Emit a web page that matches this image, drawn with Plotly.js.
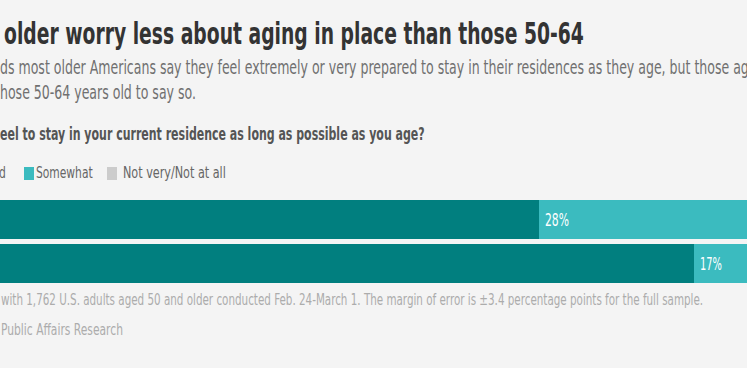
<!DOCTYPE html>
<html>
<head>
<meta charset="utf-8">
<script src="https://cdn.plot.ly/plotly-3.0.1.min.js"></script>
<style>
html,body{margin:0;padding:0;background:#f4f4f4;}
#chart{width:747px;height:368px;}
g.annotation text.annotation-text{transform-box:fill-box;transform-origin:0% 50%;}
</style>
</head>
<body>
<div id="chart"></div>
<script>
// ---- data ----
var categories = ["Ages 50-64", "Ages 65+"];
var seriesNames = ["Extremely/very prepared", "Somewhat", "Not very/Not at all"];
var veryPrepared = [66, 80];
var somewhat = [28, 17];
var notVery = [6, 3];
var somewhatLabels = ["28%", "17%"];

// ---- texts ----
var titleText = "older worry less about aging in place than those 50-64";
var subLine1 = "ds most older Americans say they feel extremely or very prepared to stay in their residences as they age, but those ag";
var subLine2 = "hose 50-64 years old to say so.";
var questionText = "eel to stay in your current residence as long as possible as you age?";
var legendCut = "d";
var footLine1 = "with 1,762 U.S. adults aged 50 and older conducted Feb. 24-March 1. The margin of error is \u00b13.4 percentage points for the full sample.";
var footLine2 = "Public Affairs Research";

var DARK = "#017f7f", LIGHT = "#3bbbbf", GREY = "#cccccc";
var FONT = "DejaVu Sans Condensed, DejaVu Sans, sans-serif";

var traces = [
  {type:"bar", orientation:"h", name:seriesNames[0], y:categories, x:veryPrepared, marker:{color:DARK}, hoverinfo:"none"},
  {type:"bar", orientation:"h", name:seriesNames[1], y:categories, x:somewhat, marker:{color:LIGHT}, hoverinfo:"none"},
  {type:"bar", orientation:"h", name:seriesNames[2], y:categories, x:notVery, marker:{color:GREY}, hoverinfo:"none"}
];

function txt(t, x, y, size, color, weight){
  return {text:t, xref:"paper", yref:"paper", x:x/747, y:1 - y/368, xanchor:"left", yanchor:"middle",
          showarrow:false, align:"left", font:{family:FONT, size:size, color:color, weight:weight||400}};
}

var annotations = [
  txt(titleText, 2, 34, 30, "#333333", 700),
  txt(subLine1, -2, 67, 19, "#707070", 400),
  txt(subLine2, -2, 92, 19, "#707070", 400),
  txt(questionText, -2, 133.5, 18, "#555555", 700),
  txt(legendCut, -3, 173, 16, "#666666", 400),
  txt(seriesNames[1], 34, 173, 16, "#666666", 400),
  txt(seriesNames[2], 121, 173, 16, "#666666", 400),
  txt(footLine1, -1, 299.5, 15, "#acacac", 400),
  txt(footLine2, -1, 330, 15, "#acacac", 400)
];
for (var i = 0; i < categories.length; i++) {
  annotations.push({text:somewhatLabels[i], xref:"x", yref:"y", x:veryPrepared[i], y:categories[i],
    xanchor:"left", yanchor:"middle", xshift:4, showarrow:false,
    font:{family:FONT, size:17, color:"#ffffff"}});
}

// horizontal condensing of each text (layout styling): target visible widths in px, or index to copy factor from
var targetWidth = [580, "copy2", 196, 425, "copy5", 57, 103, 703, 122, 24, 22];

var shapes = [
  {type:"rect", xref:"paper", yref:"paper", x0:24/747, x1:34/747, y0:1-180/368, y1:1-167/368, fillcolor:LIGHT, line:{width:0}},
  {type:"rect", xref:"paper", yref:"paper", x0:107/747, x1:117/747, y0:1-180/368, y1:1-167/368, fillcolor:GREY, line:{width:0}}
];

var layout = {
  width:747, height:368,
  paper_bgcolor:"#f4f4f4", plot_bgcolor:"#f4f4f4",
  margin:{l:0, r:0, t:0, b:0, pad:0},
  barmode:"stack", bargap:0.136,
  showlegend:false,
  xaxis:{range:[17.53, 84.74], visible:false, fixedrange:true},
  yaxis:{domain:[(368-285.5)/368, (368-197.5)/368], autorange:"reversed", visible:false, fixedrange:true},
  annotations:annotations,
  shapes:shapes
};

Plotly.newPlot("chart", traces, layout, {displayModeBar:false, staticPlot:true}).then(function(gd){
  var groups = gd.querySelectorAll("g.annotation");
  var textEls = {};
  groups.forEach(function(g){ textEls[g.getAttribute("data-index")] = g.querySelector("text.annotation-text"); });
  var factors = [];
  for (var k = 0; k < targetWidth.length; k++) {
    var el = textEls[String(k)];
    if (!el || typeof targetWidth[k] !== "number") continue;
    var w = el.getBBox().width;
    factors[k] = w > 0 ? targetWidth[k] / w : 1;
  }
  for (var k = 0; k < targetWidth.length; k++) {
    if (typeof targetWidth[k] === "string") factors[k] = factors[parseInt(targetWidth[k].slice(4), 10)];
    var el2 = textEls[String(k)];
    if (el2 && factors[k]) el2.style.transform = "scaleX(" + factors[k].toFixed(4) + ")";
  }
});
</script>
</body>
</html>
